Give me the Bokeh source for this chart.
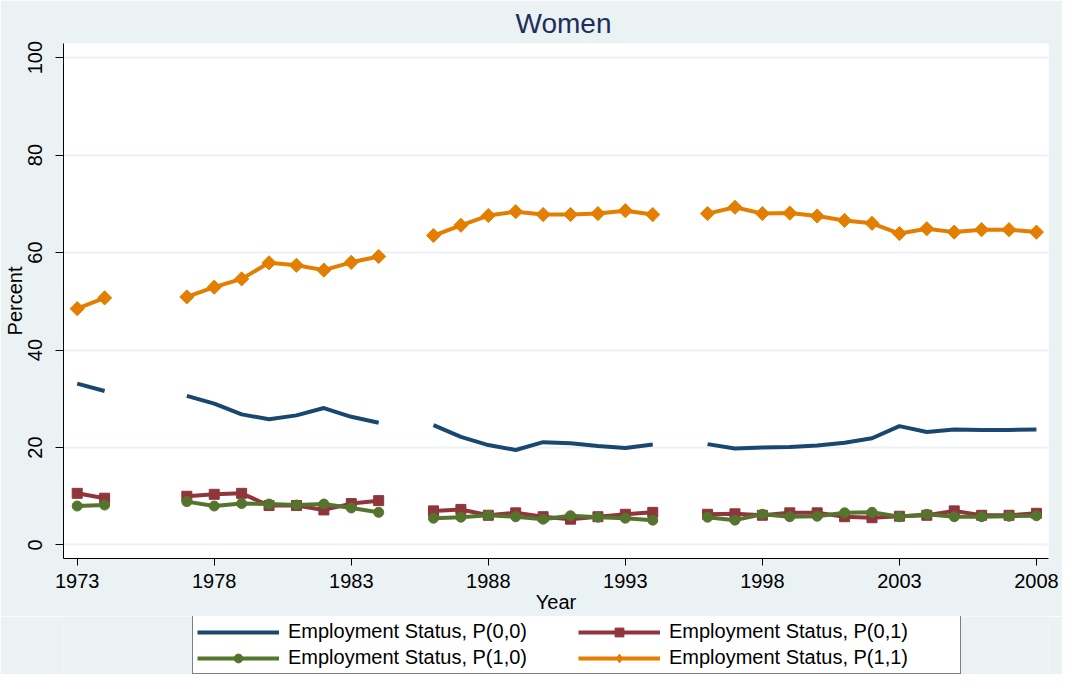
import numpy as np
from bokeh.plotting import figure
from bokeh.layouts import column
from bokeh.models import Range1d, FixedTicker, Legend, LegendItem, ColumnDataSource
from bokeh.embed import file_html
from bokeh.resources import INLINE

nan = float("nan")

years = list(range(1973, 2009))

# Employment Status, P(0,0)
p00 = [33.1, 31.6, nan, nan, 30.6, 29.0, 26.8, 25.8, 26.6, 28.1, 26.3, 25.1, nan,
       24.6, 22.2, 20.5, 19.5, 21.1, 20.9, 20.3, 19.9, 20.6, nan,
       20.7, 19.8, 20.0, 20.1, 20.4, 21.0, 21.9, 24.4, 23.2, 23.7, 23.6, 23.6, 23.7]
# Employment Status, P(0,1)
p01 = [10.6, 9.6, nan, nan, 10.0, 10.4, 10.6, 8.1, 8.1, 7.2, 8.5, 9.1, nan,
       7.0, 7.3, 6.1, 6.6, 5.8, 5.3, 5.8, 6.3, 6.7, nan,
       6.3, 6.4, 6.1, 6.6, 6.6, 5.8, 5.6, 5.9, 6.1, 7.0, 6.1, 6.1, 6.5]
# Employment Status, P(1,0)
p10 = [8.0, 8.2, nan, nan, 8.9, 8.0, 8.5, 8.4, 8.2, 8.4, 7.6, 6.7, nan,
       5.5, 5.7, 6.1, 5.8, 5.3, 6.0, 5.7, 5.5, 5.1, nan,
       5.7, 5.1, 6.3, 5.8, 5.9, 6.6, 6.7, 5.8, 6.3, 5.8, 5.8, 5.9, 6.0]
# Employment Status, P(1,1)
p11 = [48.5, 50.7, nan, nan, 50.9, 52.9, 54.6, 57.9, 57.4, 56.4, 58.0, 59.2, nan,
       63.5, 65.6, 67.6, 68.4, 67.8, 67.8, 68.0, 68.6, 67.8, nan,
       68.0, 69.3, 68.0, 68.1, 67.5, 66.6, 66.0, 63.9, 64.9, 64.2, 64.7, 64.7, 64.2]

labels = ["Employment Status, P(0,0)", "Employment Status, P(0,1)",
          "Employment Status, P(1,0)", "Employment Status, P(1,1)"]
x_ticks = [1973, 1978, 1983, 1988, 1993, 1998, 2003, 2008]
y_ticks = [0, 20, 40, 60, 80, 100]

BG = "#EAF2F3"
FONT = "Liberation Sans"
navy = "#1A476F"
maroon = "#90353B"
green = "#55752F"
orange = "#E37E00"

p = figure(frame_width=985, frame_height=515, output_backend="svg", toolbar_location=None,
           x_range=Range1d(1972.5, 2008.44), y_range=Range1d(-2.77, 102.9),
           min_border_left=63, min_border_right=14, min_border_top=43, min_border_bottom=58)

p.background_fill_color = "white"
p.border_fill_color = BG
p.outline_line_color = None

p.title.text = "Women"
p.title.text_font = FONT
p.title.text_font_size = "28px"
p.title.text_font_style = "normal"
p.title.text_color = "#1E2E5C"
p.title.align = "left"
p.title.offset = 452
p.title.standoff = 10

for ax in (p.xaxis[0], p.yaxis[0]):
    ax.axis_line_color = "black"
    ax.axis_line_width = 1
    ax.major_tick_line_color = "black"
    ax.major_tick_in = 0
    ax.major_tick_out = 8
    ax.minor_tick_line_color = None
    ax.major_label_text_font = FONT
    ax.major_label_text_font_size = "20px"
    ax.major_label_text_color = "black"
    ax.axis_label_text_font = FONT
    ax.axis_label_text_font_size = "20px"
    ax.axis_label_text_font_style = "normal"
    ax.axis_label_text_color = "black"

p.xaxis.ticker = FixedTicker(ticks=x_ticks)
p.yaxis.ticker = FixedTicker(ticks=y_ticks)
p.xaxis.axis_label = "Year"
p.yaxis.axis_label = "Percent"
p.xaxis.major_label_standoff = 8
p.xaxis.axis_label_standoff = 0
p.yaxis.major_label_standoff = 13
p.yaxis.axis_label_standoff = 0
p.yaxis.major_label_orientation = "vertical"
p.xaxis.major_tick_out = 7

p.xgrid.grid_line_color = None
p.ygrid.grid_line_color = BG
p.ygrid.grid_line_width = 2
p.ygrid.ticker = FixedTicker(ticks=y_ticks)

src = ColumnDataSource(dict(year=years, p00=p00, p01=p01, p10=p10, p11=p11))

p.line("year", "p00", source=src, line_color=navy, line_width=4)
p.line("year", "p01", source=src, line_color=maroon, line_width=4)
p.scatter("year", "p01", source=src, marker="square", size=10,
          fill_color=maroon, line_color=maroon)
p.line("year", "p10", source=src, line_color=green, line_width=4)
p.scatter("year", "p10", source=src, marker="circle", size=10,
          fill_color=green, line_color=green)
p.line("year", "p11", source=src, line_color=orange, line_width=4)
p.scatter("year", "p11", source=src, marker="square", size=10, angle=np.pi / 4,
          fill_color=orange, line_color=orange)

# Legend strip below the chart
leg = figure(width=1062, height=58, output_backend="svg", toolbar_location=None,
             x_axis_location=None, y_axis_location=None, min_border=0,
             x_range=Range1d(0, 1), y_range=Range1d(0, 1))
leg.border_fill_color = BG
leg.background_fill_color = BG
leg.outline_line_color = None
leg.xgrid.grid_line_color = None
leg.ygrid.grid_line_color = None

dummy = ColumnDataSource(dict(x=[nan], y=[nan]))
l00 = leg.line("x", "y", source=dummy, line_color=navy, line_width=4)
l01 = leg.line("x", "y", source=dummy, line_color=maroon, line_width=4)
s01 = leg.scatter("x", "y", source=dummy, marker="square", size=10,
                  fill_color=maroon, line_color=maroon)
l10 = leg.line("x", "y", source=dummy, line_color=green, line_width=4)
s10 = leg.scatter("x", "y", source=dummy, marker="circle", size=10,
                  fill_color=green, line_color=green)
l11 = leg.line("x", "y", source=dummy, line_color=orange, line_width=4)
s11 = leg.scatter("x", "y", source=dummy, marker="diamond", size=14,
                  fill_color=orange, line_color=orange)

legend = Legend(items=[
    LegendItem(label=labels[0], renderers=[l00]),
    LegendItem(label=labels[1], renderers=[l01, s01]),
    LegendItem(label=labels[2], renderers=[l10, s10]),
    LegendItem(label=labels[3], renderers=[l11, s11]),
], ncols=2, orientation="horizontal", location=(129, 0))
legend.label_text_font = FONT
legend.label_text_font_size = "20px"
legend.label_text_color = "black"
legend.glyph_width = 82
legend.glyph_height = 22
legend.label_height = 22
legend.label_width = 287
legend.label_standoff = 9
legend.spacing = 3
legend.padding = 4
legend.margin = 0
legend.border_line_color = "black"
legend.border_line_width = 1
legend.background_fill_color = "white"
legend.background_fill_alpha = 1
leg.add_layout(legend, "center")

layout = column(p, leg, spacing=0)
open("out.html", "w").write(file_html(layout, INLINE))
